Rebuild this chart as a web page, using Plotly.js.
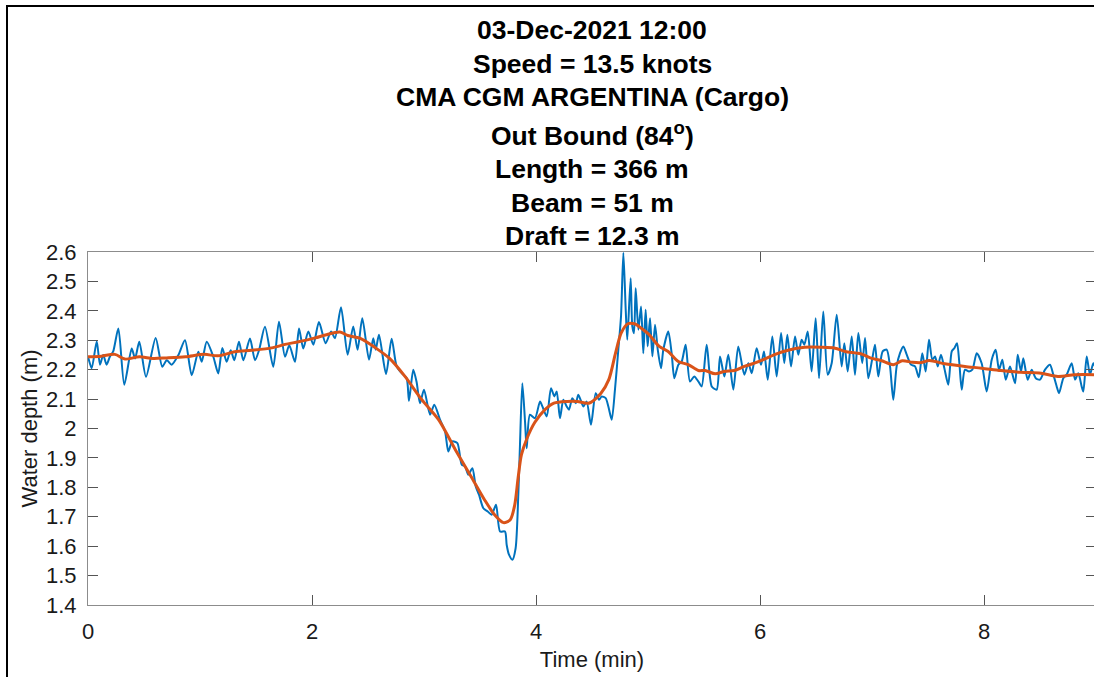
<!DOCTYPE html>
<html>
<head>
<meta charset="utf-8">
<script src="https://cdn.plot.ly/plotly-3.0.1.min.js"></script>
<style>
  html, body { margin: 0; padding: 0; background: #fff; overflow: hidden; }
  #wrap { position: relative; width: 1094px; height: 677px; overflow: hidden; }
  #chart { position: absolute; left: 0; top: 0; }
  #frame { position: absolute; left: 6px; top: 5px; width: 2000px; height: 2000px;
           border-left: 2px solid #000; border-top: 2px solid #000; pointer-events: none; }
</style>
</head>
<body>
<div id="wrap">
  <div id="chart"></div>
  <div id="frame"></div>
</div>
<script>
// Vessel passage record: measured water depth and its smoothed trend
const titleLines = [
  "03-Dec-2021 12:00",
  "Speed = 13.5 knots",
  "CMA CGM ARGENTINA (Cargo)",
  "Out Bound (84<sup>o</sup>)",
  "Length = 366 m",
  "Beam = 51 m",
  "Draft = 12.3 m"
];

const xTickVals = [0, 2, 4, 6, 8];
const yTickVals = [1.4, 1.5, 1.6, 1.7, 1.8, 1.9, 2, 2.1, 2.2, 2.3, 2.4, 2.5, 2.6];

// measured water depth (m) against time (min)
const timeMin = [
  0.000, 0.033, 0.078, 0.107, 0.136, 0.166, 0.196, 0.225, 0.271, 0.324,
  0.390, 0.420, 0.458, 0.518, 0.604, 0.663, 0.703, 0.747, 0.806, 0.866,
  0.926, 0.985, 1.015, 1.060, 1.119, 1.163, 1.199, 1.238, 1.274, 1.306,
  1.348, 1.387, 1.446, 1.491, 1.527, 1.580, 1.654, 1.705, 1.759, 1.797,
  1.848, 1.884, 1.922, 1.967, 2.012, 2.062, 2.122, 2.170, 2.205, 2.259,
  2.318, 2.368, 2.407, 2.449, 2.509, 2.547, 2.569, 2.598, 2.661, 2.711,
  2.756, 2.801, 2.845, 2.866, 2.904, 2.934, 2.964, 3.000, 3.054, 3.092,
  3.143, 3.188, 3.217, 3.253, 3.298, 3.337, 3.367, 3.396, 3.432, 3.462,
  3.491, 3.530, 3.569, 3.604, 3.643, 3.679, 3.723, 3.738, 3.759, 3.789,
  3.818, 3.842, 3.857, 3.878, 3.902, 3.917, 3.946, 3.991, 4.036, 4.057,
  4.096, 4.134, 4.164, 4.185, 4.214, 4.244, 4.274, 4.295, 4.324, 4.355,
  4.378, 4.423, 4.452, 4.491, 4.533, 4.563, 4.586, 4.622, 4.646, 4.676,
  4.705, 4.735, 4.759, 4.780, 4.801, 4.815, 4.845, 4.860, 4.875, 4.890,
  4.914, 4.938, 4.958, 4.979, 4.997, 5.018, 5.039, 5.063, 5.087, 5.116,
  5.137, 5.181, 5.211, 5.235, 5.271, 5.301, 5.336, 5.375, 5.413, 5.449,
  5.479, 5.524, 5.569, 5.613, 5.643, 5.682, 5.717, 5.762, 5.806, 5.860,
  5.896, 5.926, 5.970, 6.009, 6.036, 6.069, 6.110, 6.149, 6.188, 6.217,
  6.244, 6.277, 6.313, 6.342, 6.372, 6.396, 6.426, 6.461, 6.497, 6.527,
  6.565, 6.604, 6.640, 6.685, 6.729, 6.753, 6.783, 6.819, 6.848, 6.878,
  6.913, 6.938, 6.967, 7.003, 7.027, 7.056, 7.095, 7.131, 7.161, 7.190,
  7.220, 7.250, 7.280, 7.310, 7.348, 7.384, 7.418, 7.449, 7.479, 7.509,
  7.539, 7.563, 7.587, 7.616, 7.646, 7.681, 7.712, 7.735, 7.759, 7.780,
  7.801, 7.830, 7.866, 7.896, 7.935, 7.979, 8.024, 8.069, 8.104, 8.134,
  8.164, 8.194, 8.232, 8.277, 8.301, 8.330, 8.351, 8.390, 8.426, 8.462,
  8.500, 8.545, 8.589, 8.619, 8.649, 8.670, 8.708, 8.738, 8.783, 8.813,
  8.842, 8.872, 8.887, 8.917, 8.946, 8.976, 9.000
];
const depthRaw = [
  2.245, 2.205, 2.296, 2.217, 2.250, 2.217, 2.245, 2.262, 2.340, 2.149,
  2.272, 2.238, 2.295, 2.176, 2.308, 2.210, 2.232, 2.217, 2.249, 2.300,
  2.181, 2.261, 2.227, 2.295, 2.244, 2.187, 2.274, 2.227, 2.266, 2.232,
  2.295, 2.232, 2.306, 2.232, 2.266, 2.346, 2.210, 2.363, 2.244, 2.283,
  2.227, 2.340, 2.272, 2.330, 2.285, 2.362, 2.290, 2.330, 2.307, 2.412,
  2.251, 2.347, 2.268, 2.375, 2.234, 2.307, 2.268, 2.319, 2.185, 2.305,
  2.211, 2.188, 2.171, 2.094, 2.200, 2.158, 2.086, 2.132, 2.047, 2.081,
  2.030, 1.990, 1.922, 1.956, 1.950, 1.877, 1.871, 1.843, 1.865, 1.803,
  1.775, 1.729, 1.718, 1.707, 1.741, 1.650, 1.650, 1.605, 1.571, 1.554,
  1.593, 1.775, 1.945, 2.154, 2.024, 1.933, 2.047, 2.035, 2.092, 2.075,
  2.041, 2.137, 2.109, 2.126, 2.035, 2.098, 2.075, 2.064, 2.103, 2.086,
  2.115, 2.075, 2.092, 2.013, 2.120, 2.098, 2.109, 2.103, 2.075, 2.030,
  2.132, 2.268, 2.381, 2.597, 2.404, 2.302, 2.511, 2.347, 2.324, 2.477,
  2.336, 2.415, 2.256, 2.404, 2.279, 2.375, 2.245, 2.353, 2.268, 2.205,
  2.268, 2.330, 2.256, 2.171, 2.217, 2.228, 2.285, 2.160, 2.177, 2.160,
  2.143, 2.285, 2.143, 2.132, 2.245, 2.177, 2.251, 2.132, 2.279, 2.183,
  2.222, 2.188, 2.273, 2.217, 2.262, 2.166, 2.313, 2.177, 2.325, 2.222,
  2.319, 2.211, 2.313, 2.251, 2.302, 2.285, 2.330, 2.194, 2.375, 2.171,
  2.398, 2.183, 2.222, 2.387, 2.211, 2.290, 2.194, 2.313, 2.183, 2.325,
  2.222, 2.308, 2.171, 2.239, 2.285, 2.177, 2.262, 2.268, 2.211, 2.098,
  2.211, 2.256, 2.279, 2.251, 2.217, 2.211, 2.174, 2.256, 2.194, 2.302,
  2.234, 2.245, 2.211, 2.251, 2.205, 2.149, 2.262, 2.273, 2.290, 2.222,
  2.132, 2.200, 2.194, 2.200, 2.256, 2.222, 2.126, 2.234, 2.268, 2.200,
  2.234, 2.166, 2.211, 2.154, 2.251, 2.194, 2.239, 2.166, 2.200, 2.171,
  2.166, 2.200, 2.217, 2.183, 2.143, 2.120, 2.171, 2.183, 2.222, 2.166,
  2.188, 2.143, 2.126, 2.245, 2.183, 2.222, 2.200
];

// smoothed trend of the same record
const smoothTime = [
  0.00, 0.12, 0.24, 0.33, 0.46, 0.58, 0.70, 0.87, 1.04, 1.16,
  1.31, 1.46, 1.64, 1.76, 1.88, 2.03, 2.12, 2.25, 2.32, 2.44,
  2.56, 2.69, 2.83, 2.98, 3.13, 3.28, 3.42, 3.54, 3.63, 3.71,
  3.77, 3.81, 3.84, 3.87, 3.92, 3.99, 4.08, 4.16, 4.28, 4.37,
  4.47, 4.58, 4.65, 4.71, 4.76, 4.82, 4.88, 4.94, 5.01, 5.10,
  5.18, 5.27, 5.36, 5.45, 5.51, 5.60, 5.68, 5.77, 5.86, 5.95,
  6.03, 6.13, 6.25, 6.40, 6.55, 6.67, 6.76, 6.90, 6.99, 7.08,
  7.19, 7.27, 7.36, 7.44, 7.51, 7.65, 7.83, 7.98, 8.15, 8.33,
  8.51, 8.66, 8.81, 9.00
];
const depthSmooth = [
  2.244, 2.246, 2.252, 2.236, 2.244, 2.238, 2.240, 2.244, 2.252, 2.247,
  2.261, 2.266, 2.274, 2.286, 2.295, 2.308, 2.318, 2.328, 2.316, 2.305,
  2.276, 2.239, 2.177, 2.098, 2.030, 1.928, 1.837, 1.758, 1.707, 1.680,
  1.690, 1.740, 1.831, 1.911, 1.967, 2.021, 2.064, 2.086, 2.092, 2.092,
  2.086, 2.120, 2.166, 2.256, 2.324, 2.356, 2.356, 2.341, 2.319, 2.279,
  2.262, 2.228, 2.217, 2.197, 2.197, 2.186, 2.194, 2.197, 2.211, 2.222,
  2.234, 2.251, 2.266, 2.276, 2.276, 2.273, 2.262, 2.254, 2.239, 2.231,
  2.217, 2.230, 2.225, 2.224, 2.231, 2.220, 2.211, 2.205, 2.197, 2.191,
  2.188, 2.177, 2.183, 2.183
];

const fontFamily = '"Liberation Sans", Arial, Helvetica, sans-serif';

// plot box spans pixel rows 252..605; each title line sits at a fixed row above it
const plotTop = 252, plotBottom = 605;
const titleRows = [30, 64, 97, 134, 169, 203, 236];
const annotations = titleLines.map((txt, i) => ({
  text: '<b>' + txt + '</b>',
  xref: 'paper', yref: 'paper',
  x: 0.5, y: (plotBottom - titleRows[i]) / (plotBottom - plotTop),
  xanchor: 'center', yanchor: 'middle',
  showarrow: false,
  font: { family: fontFamily, size: 26.5, color: '#000' }
}));

const traces = [
  {
    x: timeMin, y: depthRaw, type: 'scatter', mode: 'lines',
    line: { color: '#0072BD', width: 2, shape: 'spline', smoothing: 0.7 },
    hoverinfo: 'skip'
  },
  {
    x: smoothTime, y: depthSmooth, type: 'scatter', mode: 'lines',
    line: { color: '#D95319', width: 3, shape: 'spline', smoothing: 0.8 },
    hoverinfo: 'skip'
  }
];

const axisCommon = {
  showgrid: false, zeroline: false,
  showline: true, linecolor: '#8c8c8c', linewidth: 1,
  mirror: 'ticks', ticks: 'inside', ticklen: 10, tickwidth: 1, tickcolor: '#555',
  tickfont: { family: fontFamily, size: 22, color: '#1a1a1a' }
};

const layout = {
  width: 1100, height: 677,
  margin: { l: 88, r: 4, t: plotTop, b: 677 - plotBottom },
  paper_bgcolor: '#fff', plot_bgcolor: '#fff',
  showlegend: false,
  xaxis: Object.assign({}, axisCommon, {
    range: [0, 9], tickmode: 'array', tickvals: xTickVals,
    ticktext: xTickVals.map(String),
    ticklabelstandoff: 7,
    title: { text: 'Time (min)', font: { family: fontFamily, size: 22, color: '#1a1a1a' }, standoff: 8 }
  }),
  yaxis: Object.assign({}, axisCommon, {
    range: [1.4, 2.6], tickmode: 'array', tickvals: yTickVals,
    ticktext: yTickVals.map(v => String(v)),
    ticklabelstandoff: 6,
    title: { text: 'Water depth (m)', font: { family: fontFamily, size: 22, color: '#1a1a1a' }, standoff: 2 }
  }),
  annotations: annotations
};

Plotly.newPlot('chart', traces, layout, { staticPlot: true, displayModeBar: false });
</script>
</body>
</html>
